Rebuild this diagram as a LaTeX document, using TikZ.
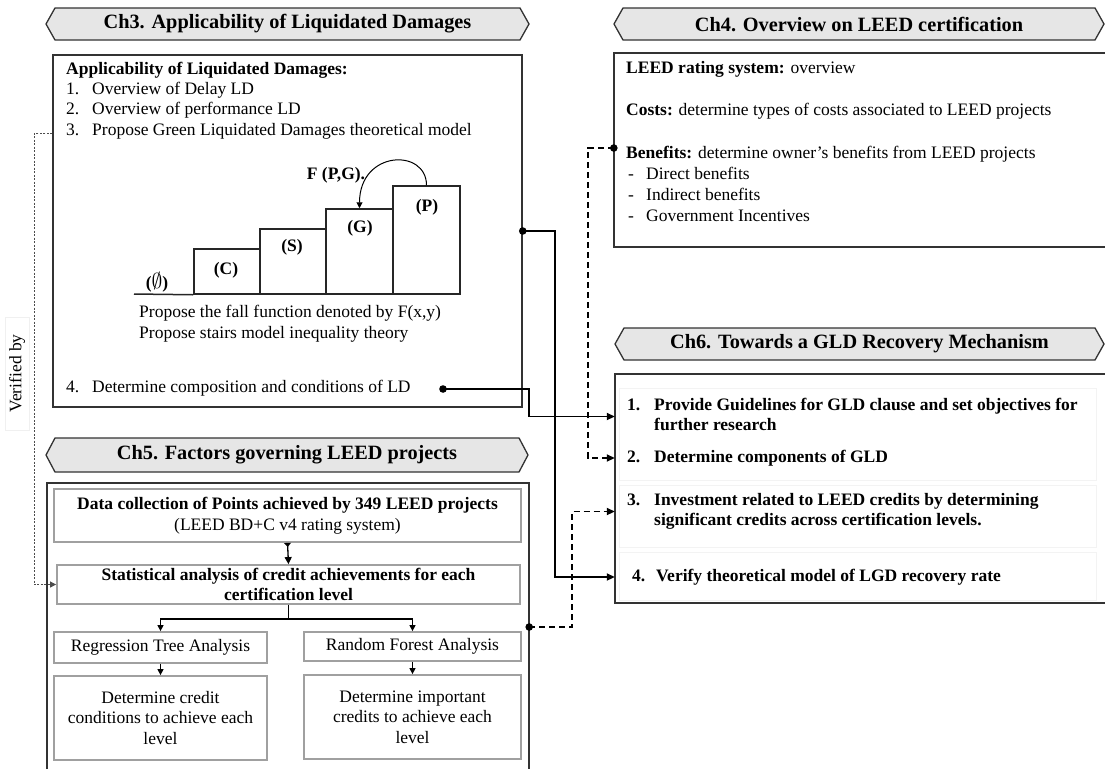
\documentclass[tikz,border=0pt]{standalone}
\usepackage{fontspec}
\setmainfont{Liberation Serif}
\usepackage{array}
\usetikzlibrary{arrows.meta,fit}
\newcommand\bodyf{\fontsize{17.5}{20.5}\selectfont}
\newcommand\hdrf{\fontsize{20.3}{24}\selectfont\bfseries}
\definecolor{hdrfill}{HTML}{E6E6E6}
\definecolor{edge}{HTML}{333333}
\definecolor{innergray}{HTML}{A0A0A0}
\definecolor{faint}{HTML}{F3F3F3}
\newcommand\chbanner[6]{%
  \draw[hdr] (#2,{(#4+#5)/2}) -- ({#2+9},#4) -- ({#3-9},#4) -- (#3,{(#4+#5)/2}) -- ({#3-9},#5) -- ({#2+9},#5) -- cycle;
  \node[htxt] (#1) at ({(#2+#3)/2},{(#4+#5)/2}) {#6};}
\newcommand\numitem[3]{\begin{tabular}{@{}p{#1}@{}l@{}}#2\end{tabular}}
\begin{document}
\begin{tikzpicture}[x=1pt,y=-1pt,
  box/.style={draw=edge,line width=1.5pt,inner sep=0pt},
  ibox/.style={draw=innergray,line width=1.8pt,inner sep=0pt},
  frame/.style={inner sep=0pt},
  hdr/.style={draw=edge,fill=hdrfill,line width=1.3pt},
  htxt/.style={font=\hdrf,inner sep=0pt},
  t/.style={font=\bodyf,inner sep=0pt,anchor=mid west},
  tb/.style={font=\bodyf\bfseries,inner sep=0pt,anchor=mid west},
  tbl/.style={font=\bodyf\bfseries,inner sep=0pt,anchor=west,align=left},
  tc/.style={font=\bodyf,inner sep=0pt,align=center},
  tcb/.style={font=\bodyf\bfseries,inner sep=0pt,align=center},
  stair/.style={draw=black!85,line width=1.5pt,inner sep=0pt},
  conn/.style={draw=black,line width=1.8pt},
  dconn/.style={draw=black,line width=1.8pt,dash pattern=on 6pt off 4pt},
  vconn/.style={draw=black!70,line width=0.8pt,dash pattern=on 2pt off 1.5pt},
  conn2/.style={draw=black,line width=1.3pt},
  arr/.style={-{Triangle[length=8pt,width=7pt]}},
  arrs/.style={-{Triangle[length=6pt,width=6pt]}},
  arrd/.style={{Triangle[reversed,length=4pt,width=7pt]}-{Triangle[length=7pt,width=7pt]}},
]
\useasboundingbox[fill=white] (0,0) rectangle (1105,769);

% ---------------- headers
\chbanner{h3}{46}{529}{8}{40}{Ch3. Applicability of Liquidated Damages}
\chbanner{h4}{614}{1104}{8}{40}{Ch4. Overview on LEED certification}
\chbanner{h6}{615}{1104}{328}{360}{Ch6. Towards a GLD Recovery Mechanism}
\chbanner{h5}{46}{528}{438}{472}{Ch5. Factors governing LEED projects}

% ---------------- Ch3 box
\node[box,fit={(53,55) (522,407)}] (ch3box) {};
\node[tb] (c3t) at (66,72) {Applicability of Liquidated Damages:};
\node[t] (n1) at (66,92) {1.};  \node[t] (i1) at (92,92) {Overview of Delay LD};
\node[t] (n2) at (66,112) {2.}; \node[t] (i2) at (92,112) {Overview of performance LD};
\node[t] (n3) at (66,133) {3.}; \node[t] (i3) at (92,133) {Propose Green Liquidated Damages theoretical model};
\node[t] (n4) at (66,390) {4.}; \node[t] (i4) at (92,390) {Determine composition and conditions of LD};

% stairs
\node[stair,fit={(194,249) (260,294)}] (sC) {};
\node[stair,fit={(260,229) (326,294)}] (sS) {};
\node[stair,fit={(326,209) (393,294)}] (sG) {};
\node[stair,fit={(393,186) (460,294)}] (sP) {};
\coordinate (base0) at (134,294);
\draw[draw=black!85,line width=1.5pt] (base0) -- (sC.south west);
\node[tcb] (l0) at (157,282) {(\scalebox{1.25}{$\emptyset$})};
\node[tcb] (lC) at (226,270) {(C)};
\node[tcb] (lS) at (292,247) {(S)};
\node[tcb] (lG) at (360,228) {(G)};
\node[tcb] (lP) at (427,207) {(P)};
\node[tcb] (fpg) at (336,175) {F (P,G).};
\draw[line width=1pt,arrs] (sP.north) .. controls (426.5,148) and (359.5,150) .. (sG.north);
\node[t] (pr1) at (139,315) {Propose the fall function denoted by F(x,y)};
\node[t] (pr2) at (139,336) {Propose stairs model inequality theory};

% ---------------- Ch4 box (open on the right)
\node[frame,fit={(614,53) (1105,247)}] (ch4box) {};
\draw[box] (ch4box.north east) -- (ch4box.north west) -- (ch4box.south west) -- (ch4box.south east);
\node[t] (b41) at (626,71) {\textbf{LEED rating system:} overview};
\node[t] (b42) at (626,113) {\textbf{Costs:} determine types of costs associated to LEED projects};
\node[t] (b43) at (626,156) {\textbf{Benefits:} determine owner’s benefits from LEED projects};
\node[t] (d41) at (628,177) {-}; \node[t] (b44) at (646,177) {Direct benefits};
\node[t] (d42) at (628,198) {-}; \node[t] (b45) at (646,198) {Indirect benefits};
\node[t] (d43) at (628,219) {-}; \node[t] (b46) at (646,219) {Government Incentives};

% ---------------- Ch6 box (open on the right)
\node[frame,fit={(615,374) (1105,603)}] (ch6box) {};
\node[draw=faint,line width=1pt,inner sep=0pt,fit={(619,388) (1096,480)}] (r12) {};
\node[draw=faint,line width=1pt,inner sep=0pt,fit={(619,485) (1096,547)}] (r3) {};
\node[draw=faint,line width=1pt,inner sep=0pt,fit={(619,552) (1096,600)}] (r4) {};
\draw[box] (ch6box.north east) -- (ch6box.north west) -- (ch6box.south west) -- (ch6box.south east);
\node[tbl] (i61) at (627,416.5) {\numitem{27pt}{1. & Provide Guidelines for GLD clause and set objectives for\\ & further research}{}};
\node[tbl] (i62) at (627,458) {\numitem{27pt}{2. & Determine components of GLD}{}};
\node[tbl] (i63) at (627,511.5) {\numitem{27pt}{3. & Investment related to LEED credits by determining\\ & significant credits across certification levels.}{}};
\node[tbl] (i64) at (632,577) {\numitem{24pt}{4. & Verify theoretical model of LGD recovery rate}{}};

% ---------------- Ch5 box (open at the bottom)
\node[frame,fit={(47,483) (529,769)}] (ch5box) {};
\draw[box] (ch5box.south west) -- (ch5box.north west) -- (ch5box.north east) -- (ch5box.south east);
\node[ibox,fit={(54,489) (521,542)}] (data) {};
\node[tc] (datat) at (data.center) {\textbf{Data collection of Points achieved by 349 LEED projects}\\(LEED BD+C v4 rating system)};
\node[ibox,fit={(57,565) (520,604)}] (stat) {};
\node[tcb] (statt) at (stat.center) {Statistical analysis of credit achievements for each\\certification level};
\node[ibox,fit={(54,632) (267,663)}] (reg) {};
\node[tc] (regt) at (reg.center) {Regression Tree Analysis};
\node[ibox,fit={(304,632) (521,661)}] (rf) {};
\node[tc] (rft) at (rf.center) {Random Forest Analysis};
\node[ibox,fit={(54,676) (267,760)}] (dc) {};
\node[tc] (dct) at (dc.center) {Determine credit\\conditions to achieve each\\level};
\node[ibox,fit={(304,675) (521,759)}] (di) {};
\node[tc] (dit) at (di.center) {Determine important\\credits to achieve each\\level};

\draw[conn2,arrd] (data.south) -- (stat.north);
\draw[conn2] (stat.south) -- ++(0,14) coordinate (br);
\draw[conn2,arrs] (br) -| (reg.north);
\draw[conn2,arrs] (br) -| (rf.north);
\draw[conn2,arrs] (reg.south) -- (dc.north);
\draw[conn2,arrs] (rf.south) -- (di.north);

% ---------------- Verified by
\node[draw=black!6,line width=0.8pt,inner sep=0pt,fit={(5,317) (29,430)}] (vbox) {};
\node[font=\bodyf,rotate=90,inner sep=0pt] (vtxt) at (vbox.center) {Verified by};
\draw[vconn,arrs] (ch3box.west |- n3.mid) -- ++(-18,0) |- (stat.west);

% ---------------- connectors
\coordinate (d1) at (ch3box.east |- 0,231);
\coordinate (d2) at (443,389);
\coordinate (d3) at (ch4box.west |- 0,148);
\coordinate (d4) at (ch5box.east |- 0,627);
\fill (d1) circle (3.8pt);
\fill (d2) circle (3.8pt);
\fill (d3) circle (3.8pt);
\fill (d4) circle (3.8pt);
\draw[conn,arr] (d1) -- (555,231) |- (ch6box.west |- i64.center);
\draw[conn,arr] (d2) -- (529,389) |- (ch6box.west |- i61.center);
\draw[dconn,arr] (d3) -- (588,148) |- (ch6box.west |- i62.center);
\draw[dconn,arr] (d4) -- (572,627) |- (ch6box.west |- i63.center);
\end{tikzpicture}
\end{document}
